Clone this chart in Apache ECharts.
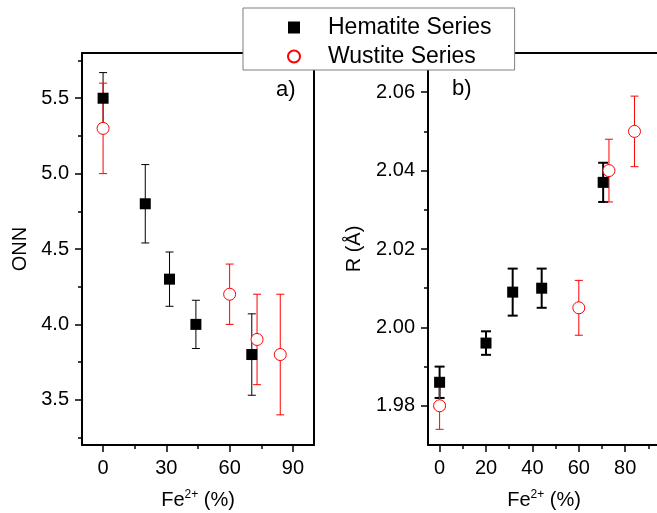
<!DOCTYPE html>
<html>
<head>
<meta charset="utf-8">
<script src="https://cdn.jsdelivr.net/npm/echarts@6/dist/echarts.min.js"></script>
<style>html,body{margin:0;padding:0;background:#fff;}#chart{width:657px;height:513px;}</style>
</head>
<body>
<div id="chart"></div>
<script>
// ---- Data ----
const fe2Hematite = [0, 20, 31.5, 44, 70.5];
const fe2Wustite = [0, 60, 73, 84];

// Panel a) ONN
const onnHematite = [5.5, 4.8, 4.3, 4.0, 3.8];
const onnHematiteLow = [5.33, 4.54, 4.12, 3.84, 3.53];
const onnHematiteHigh = [5.67, 5.06, 4.48, 4.16, 4.07];
const onnWustite = [5.3, 4.2, 3.9, 3.8];
const onnWustiteErr = [0.3, 0.2, 0.3, 0.4];

// Panel b) R (Å)
const rHematite = [1.986, 1.996, 2.009, 2.010, 2.037];
const rHematiteLow = [1.982, 1.993, 2.003, 2.005, 2.032];
const rHematiteHigh = [1.990, 1.999, 2.015, 2.015, 2.042];
const rWustite = [1.980, 2.005, 2.040, 2.050];
const rWustiteErr = [0.006, 0.007, 0.008, 0.009];

// Tick labels
const ticksAx = [0, 30, 60, 90];
const minorAx = [15, 45, 75];
const ticksAy = [3.5, 4.0, 4.5, 5.0, 5.5];
const minorAy = [3.25, 3.75, 4.25, 4.75, 5.25, 5.75];
const ticksBx = [0, 20, 40, 60, 80];
const minorBx = [10, 30, 50, 70, 90];
const ticksBy = [1.98, 2.00, 2.02, 2.04, 2.06];
const minorBy = [1.99, 2.01, 2.03, 2.05];

const FONT = '"Liberation Sans", Arial, sans-serif';
const RED = '#ff0000';

function pts(xs, ys) { return xs.map((x, i) => [x, ys[i]]); }
function errData(xs, lo, hi) { return xs.map((x, i) => [x, lo[i], hi[i]]); }
function errSym(xs, ys, e) { return xs.map((x, i) => [x, ys[i] - e[i], ys[i] + e[i]]); }

function errRender(capHalf, lw, color) {
  return function (params, api) {
    const x = api.value(0), lo = api.value(1), hi = api.value(2);
    const a = api.coord([x, lo]), b = api.coord([x, hi]);
    const st = { stroke: color, lineWidth: lw };
    return {
      type: 'group',
      children: [
        { type: 'line', shape: { x1: a[0], y1: a[1], x2: b[0], y2: b[1] }, style: st },
        { type: 'line', shape: { x1: b[0] - capHalf, y1: b[1], x2: b[0] + capHalf, y2: b[1] }, style: st },
        { type: 'line', shape: { x1: a[0] - capHalf, y1: a[1], x2: a[0] + capHalf, y2: a[1] }, style: st }
      ]
    };
  };
}

const lineStyle = { color: '#000', width: 2 };
const labelStyle = { color: '#000', fontSize: 20, fontFamily: FONT };
const nameRich = {
  a: { fontSize: 20, fontFamily: FONT, color: '#000' },
  s: { fontSize: 12, fontFamily: FONT, color: '#000', verticalAlign: 'bottom', padding: [0, 0, 10, 0] }
};

function mainX(grid, min, max, ticks) {
  return {
    type: 'value', gridIndex: grid, min: min, max: max, position: 'bottom',
    name: '{a|Fe}{s|2+}{a| (%)}', nameLocation: 'middle', nameGap: 44,
    nameTextStyle: { rich: nameRich },
    axisLine: { show: true, onZero: false, lineStyle: lineStyle },
    axisTick: { show: true, length: 7, customValues: ticks, lineStyle: { width: 1.5, color: '#000' } },
    axisLabel: { show: true, margin: 13, customValues: ticks, ...labelStyle },
    splitLine: { show: false }
  };
}
function minorX(grid, min, max, ticks) {
  return {
    type: 'value', gridIndex: grid, min: min, max: max, position: 'bottom',
    axisLine: { show: false, onZero: false },
    axisTick: { show: true, length: 4, customValues: ticks, lineStyle: { width: 1.5, color: '#000' } },
    axisLabel: { show: false }, splitLine: { show: false }
  };
}
function frameX(grid, min, max) {
  return {
    type: 'value', gridIndex: grid, min: min, max: max, position: 'top',
    axisLine: { show: true, onZero: false, lineStyle: lineStyle },
    axisTick: { show: false }, axisLabel: { show: false }, splitLine: { show: false }
  };
}
function mainY(grid, min, max, ticks, name, gap, fmt) {
  return {
    type: 'value', gridIndex: grid, min: min, max: max, position: 'left',
    name: name, nameLocation: 'middle', nameGap: gap,
    nameTextStyle: { fontSize: 20, fontFamily: FONT, color: '#000' },
    axisLine: { show: true, onZero: false, lineStyle: lineStyle },
    axisTick: { show: true, length: 7, customValues: ticks, lineStyle: { width: 1.5, color: '#000' } },
    axisLabel: { show: true, margin: 13, customValues: ticks, formatter: fmt, ...labelStyle },
    splitLine: { show: false }
  };
}
function minorY(grid, min, max, ticks) {
  return {
    type: 'value', gridIndex: grid, min: min, max: max, position: 'left',
    axisLine: { show: false, onZero: false },
    axisTick: { show: true, length: 4, customValues: ticks, lineStyle: { width: 1.5, color: '#000' } },
    axisLabel: { show: false }, splitLine: { show: false }
  };
}
function frameY(grid, min, max) {
  return {
    type: 'value', gridIndex: grid, min: min, max: max, position: 'right',
    axisLine: { show: true, onZero: false, lineStyle: lineStyle },
    axisTick: { show: false }, axisLabel: { show: false }, splitLine: { show: false }
  };
}

const chart = echarts.init(document.getElementById('chart'), null, { renderer: 'canvas' });

const squareStyle = { color: '#000', opacity: 1 };
const circleStyle = { color: '#fff', borderColor: RED, borderWidth: 1, opacity: 1 };

const option = {
  animation: false,
  backgroundColor: '#fff',
  grid: [
    { left: 82, top: 53, width: 232, height: 392, containLabel: false, outerBoundsMode: 'none' },
    { left: 428, top: 53, width: 232, height: 392, containLabel: false, outerBoundsMode: 'none' }
  ],
  xAxis: [
    mainX(0, -10, 100, ticksAx), minorX(0, -10, 100, minorAx), frameX(0, -10, 100),
    mainX(1, -5, 95, ticksBx), minorX(1, -5, 95, minorBx), frameX(1, -5, 95)
  ],
  yAxis: [
    mainY(0, 3.2, 5.8, ticksAy, 'ONN', 52, v => v.toFixed(1)), minorY(0, 3.2, 5.8, minorAy), frameY(0, 3.2, 5.8),
    mainY(1, 1.97, 2.07, ticksBy, 'R (Å)', 64, v => v.toFixed(2)), minorY(1, 1.97, 2.07, minorBy), frameY(1, 1.97, 2.07)
  ],
  legend: {
    orient: 'vertical', left: 243, top: 8,
    padding: [6, 23, 0, 44], itemGap: 2,
    itemWidth: 12, itemHeight: 12,
    backgroundColor: '#fff', borderColor: '#7f7f7f', borderWidth: 1,
    textStyle: { fontSize: 23, fontFamily: FONT, color: '#000', padding: [0, 0, 0, 23], lineHeight: 27 },
    data: ['Hematite Series', 'Wustite Series'],
    z: 20
  },
  graphic: [
    { type: 'text', left: 276, top: 79, z: 10, style: { text: 'a)', fontSize: 22, fontFamily: FONT, fill: '#000' } },
    { type: 'text', left: 452, top: 78, z: 10, style: { text: 'b)', fontSize: 22, fontFamily: FONT, fill: '#000' } }
  ],
  series: [
    // Panel a
    { type: 'custom', name: 'errAH', xAxisIndex: 0, yAxisIndex: 0, renderItem: errRender(4, 1, '#000'),
      data: errData(fe2Hematite, onnHematiteLow, onnHematiteHigh), z: 2, silent: true },
    { type: 'custom', name: 'errAW', xAxisIndex: 0, yAxisIndex: 0, renderItem: errRender(4, 1, RED),
      data: errSym(fe2Wustite, onnWustite, onnWustiteErr), z: 3, silent: true },
    { type: 'scatter', name: 'Hematite Series', xAxisIndex: 0, yAxisIndex: 0, symbol: 'rect', symbolSize: 11,
      itemStyle: squareStyle, data: pts(fe2Hematite, onnHematite), z: 4 },
    { type: 'scatter', name: 'Wustite Series', xAxisIndex: 0, yAxisIndex: 0, symbol: 'circle', symbolSize: 12,
      itemStyle: circleStyle, data: pts(fe2Wustite, onnWustite), z: 5 },
    // Panel b
    { type: 'custom', name: 'errBH', xAxisIndex: 3, yAxisIndex: 3, renderItem: errRender(5, 2, '#000'),
      data: errData(fe2Hematite, rHematiteLow, rHematiteHigh), z: 2, silent: true },
    { type: 'custom', name: 'errBW', xAxisIndex: 3, yAxisIndex: 3, renderItem: errRender(4, 1, RED),
      data: errSym(fe2Wustite, rWustite, rWustiteErr), z: 3, silent: true },
    { type: 'scatter', name: 'Hematite Series', xAxisIndex: 3, yAxisIndex: 3, symbol: 'rect', symbolSize: 11,
      itemStyle: squareStyle, data: pts(fe2Hematite, rHematite), z: 4 },
    { type: 'scatter', name: 'Wustite Series', xAxisIndex: 3, yAxisIndex: 3, symbol: 'circle', symbolSize: 12,
      itemStyle: circleStyle, data: pts(fe2Wustite, rWustite), z: 5 }
  ]
};
chart.setOption(option);
</script>
</body>
</html>
